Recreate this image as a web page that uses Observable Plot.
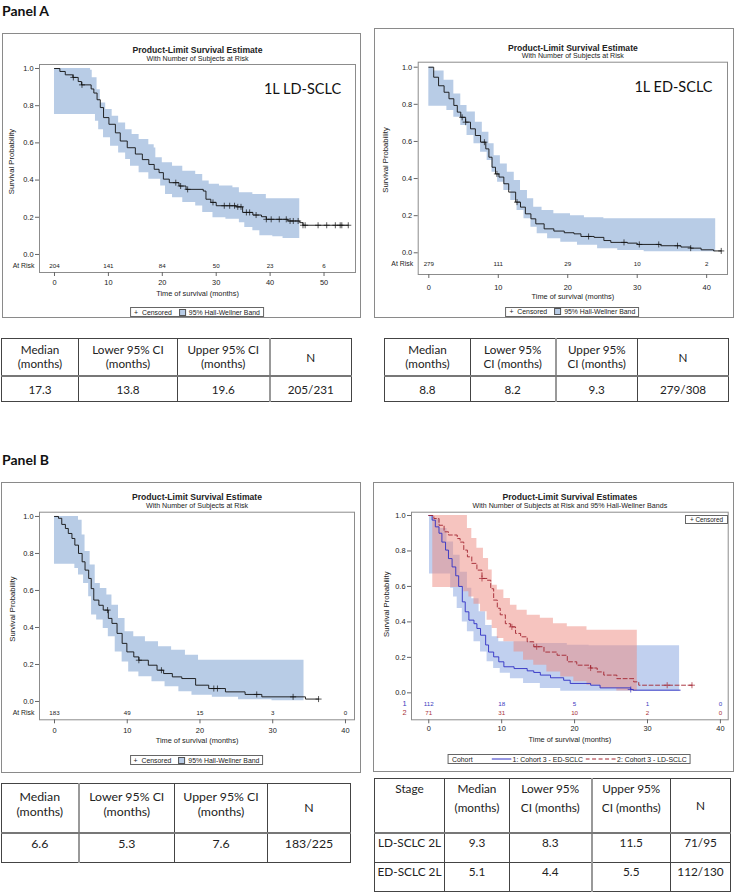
<!DOCTYPE html>
<html><head><meta charset="utf-8">
<script src="https://cdn.jsdelivr.net/npm/d3@7"></script>
<script src="https://cdn.jsdelivr.net/npm/@observablehq/plot@0.6"></script>
<style>
body{margin:0;background:#fff;}
#page{position:relative;width:736px;height:896px;overflow:hidden;font-family:"Liberation Sans",Arial,sans-serif;color:#222;}
.panelTitle{position:absolute;left:2px;font-family:Lato,sans-serif;font-weight:bold;font-size:14px;line-height:16px;color:#111;}
.box{position:absolute;border:1px solid #8a8a8a;box-sizing:border-box;background:#fff;}
.box > svg{position:absolute;left:0;top:0;}
.legend{position:absolute;border:1px solid #666;font-size:6.9px;display:flex;align-items:center;white-space:nowrap;padding:0 3px;height:10px;box-sizing:border-box;transform:translateX(-50%);background:#fff;color:#222;}
.legend svg{position:static;display:block;}
.sw{display:inline-block;width:5px;height:5px;border:1px solid #555;margin:0 3px 0 7px;}
table{position:absolute;border-collapse:collapse;font-family:Lato,sans-serif;color:#222;table-layout:fixed;}
td{border:1px solid #444;text-align:center;padding:0;overflow:hidden;white-space:nowrap;}
</style></head>
<body><div id="page"></div>
<script>
// ---------------- DATA ----------------
// Panel A left: 1L LD-SCLC  (time in months, survival probability)
const aLCurve = [[0,1],[1.0,0.984],[2.0,0.966],[3.4,0.952],[4.4,0.93],[5.0,0.912],[6.8,0.89],[7.3,0.868],[7.9,0.832],[8.5,0.79],[9.1,0.736],[10.1,0.7],[11.3,0.654],[12.2,0.61],[13.5,0.574],[15.0,0.54],[16.3,0.51],[17.5,0.484],[18.5,0.458],[19.4,0.44],[20.2,0.405],[21.3,0.386],[23.1,0.368],[24.4,0.35],[27.6,0.341],[28.1,0.297],[29.0,0.28],[30.0,0.262],[33.7,0.256],[34.9,0.226],[36.8,0.212],[38.4,0.203],[39.3,0.189],[43.3,0.18],[45.5,0.171],[46.1,0.157],[54.5,0.157]];
const aLUpper = [[0,1],[6.7,0.99],[7.0,0.95],[7.9,0.886],[8.5,0.814],[9.5,0.78],[10.7,0.743],[11.9,0.707],[13.2,0.671],[14.4,0.645],[15.7,0.618],[17.5,0.59],[18.5,0.573],[18.8,0.52],[20.0,0.493],[21.9,0.475],[23.8,0.448],[26.2,0.43],[27.5,0.395],[28.7,0.377],[30.6,0.368],[33.1,0.359],[34.3,0.332],[36.8,0.323],[39.3,0.3],[45.5,0.3]];
const aLLower = [[0,0.752],[6.7,0.752],[7.6,0.716],[8.2,0.671],[9.1,0.627],[10.4,0.582],[11.9,0.546],[13.2,0.51],[14.1,0.475],[15.7,0.44],[17.5,0.404],[19.7,0.368],[20.6,0.323],[21.9,0.305],[23.8,0.279],[26.2,0.26],[27.5,0.225],[29.4,0.198],[31.8,0.189],[34.3,0.171],[35.3,0.145],[36.8,0.127],[38.1,0.1],[40.5,0.095],[42.4,0.086],[45.5,0.086]];
const aLCensor = [3.5,5.1,22.5,23.4,24.7,29.4,31.5,32.5,33.4,34.0,34.6,35.6,36.2,37.4,39.3,40.2,41.7,43.0,43.7,44.3,45.2,46.1,46.5,48.9,50.5,52.1,53.0,53.3,54.5];
const aLRiskTimes = [0,10,20,30,40,50];
const aLRisk = [204,141,84,50,23,6];

// Panel A right: 1L ED-SCLC
const aRCurve = [[0,1],[0.7,0.946],[1.4,0.9],[2.2,0.865],[2.9,0.83],[3.6,0.794],[4.1,0.758],[4.6,0.73],[5.3,0.704],[6.0,0.668],[6.7,0.632],[7.45,0.596],[8.2,0.56],[8.65,0.515],[9.1,0.461],[9.6,0.425],[10.1,0.408],[10.8,0.372],[11.5,0.327],[12.5,0.273],[13.2,0.246],[13.9,0.21],[14.7,0.183],[15.4,0.156],[16.6,0.129],[18.0,0.117],[19.5,0.108],[20.9,0.102],[21.9,0.088],[23.8,0.083],[25.2,0.066],[26.2,0.056],[28.6,0.052],[30.0,0.045],[33.4,0.038],[36.3,0.031],[37.7,0.025],[39.2,0.016],[41.0,0.01],[42.1,0.01]];
const aRUpper = [[0,1],[0.7,0.98],[2.2,0.93],[3.6,0.856],[4.6,0.794],[5.5,0.758],[6.7,0.704],[7.7,0.65],[8.65,0.587],[9.4,0.523],[10.3,0.478],[11.3,0.434],[12.3,0.39],[13.2,0.336],[14.2,0.291],[15.1,0.246],[16.3,0.228],[18.0,0.21],[20.4,0.2],[22.4,0.189],[25.2,0.183],[41.3,0.183]];
const aRLower = [[0,0.79],[1.9,0.79],[2.6,0.767],[3.6,0.73],[4.6,0.686],[5.5,0.632],[6.5,0.587],[7.45,0.542],[8.4,0.497],[9.1,0.434],[9.9,0.38],[10.8,0.336],[11.8,0.282],[12.7,0.228],[13.7,0.183],[14.7,0.138],[15.6,0.102],[17.1,0.075],[19.0,0.057],[21.4,0.04],[24.3,0.022],[27.2,0.013],[31.0,0.005],[41.3,0.005]];
const aRCensor = [4.8,5.3,8.0,9.8,12.7,23.0,28.1,30.3,33.1,35.8,37.7,42.1];
const aRRiskTimes = [0,10,20,30,40];
const aRRisk = [279,111,29,10,2];

// Panel B left
const bLCurve = [[0,1],[0.55,0.99],[1.0,0.957],[1.5,0.935],[1.9,0.908],[2.4,0.881],[2.8,0.845],[3.3,0.8],[3.8,0.755],[4.2,0.71],[4.7,0.665],[5.05,0.61],[5.4,0.548],[6.1,0.52],[6.7,0.494],[7.4,0.449],[7.9,0.422],[8.6,0.368],[9.3,0.314],[9.95,0.268],[10.9,0.241],[11.6,0.223],[12.9,0.196],[14.1,0.169],[15.0,0.151],[16.2,0.133],[17.5,0.124],[19.4,0.088],[21.2,0.07],[23.5,0.052],[26.2,0.038],[28.5,0.025],[34.5,0.013],[36.3,0.013]];
const bLUpper = [[0,1],[3.1,1],[3.3,0.98],[3.8,0.9],[4.2,0.81],[4.9,0.737],[5.6,0.638],[6.3,0.611],[7.2,0.575],[7.9,0.52],[8.8,0.449],[9.7,0.377],[10.9,0.35],[12.5,0.323],[14.3,0.296],[16.1,0.277],[18.0,0.25],[19.8,0.223],[34.3,0.223]];
const bLLower = [[0,0.742],[2.4,0.742],[2.8,0.719],[3.3,0.683],[4.0,0.638],[4.7,0.566],[5.1,0.467],[5.8,0.44],[6.7,0.395],[7.4,0.35],[8.35,0.268],[9.3,0.214],[10.2,0.16],[11.6,0.133],[13.4,0.106],[15.2,0.079],[17.1,0.052],[18.9,0.034],[21.7,0.023],[25.3,0.009],[29.9,0.004],[34.3,0.004]];
const bLCensor = [7.3,11.6,14.7,21.9,22.4,27.8,32.8,36.3];
const bLRiskTimes = [0,10,20,30,40];
const bLRisk = [183,49,15,3,0];

// Panel B right: cohort 1 ED-SCLC (blue), cohort 2 LD-SCLC (red)
const edCurve = [[0,1],[0.46,0.974],[0.9,0.936],[1.4,0.9],[1.8,0.85],[2.3,0.805],[2.7,0.757],[3.2,0.71],[3.7,0.66],[4.1,0.6],[4.6,0.513],[5.0,0.457],[5.5,0.41],[6.2,0.39],[6.6,0.363],[7.1,0.325],[7.8,0.27],[8.2,0.23],[8.9,0.203],[9.6,0.175],[10.3,0.147],[11.7,0.137],[13.5,0.124],[14.4,0.115],[15.3,0.1],[16.7,0.085],[18.5,0.071],[19.4,0.053],[22.2,0.043],[23.5,0.028],[27.7,0.019],[28.0,0.015],[34.5,0.015]];
const edUpper = [[0.1,1],[0.7,0.98],[1.6,0.927],[2.5,0.85],[3.4,0.776],[4.3,0.68],[5.3,0.59],[5.9,0.53],[6.9,0.457],[7.8,0.38],[8.7,0.316],[9.6,0.288],[14.4,0.278],[19.0,0.269],[22.0,0.265],[34.4,0.265]];
const edLower = [[0.1,0.67],[2.1,0.67],[3.0,0.59],[3.4,0.54],[3.9,0.475],[4.6,0.4],[5.3,0.344],[6.2,0.288],[7.1,0.23],[8.0,0.175],[8.9,0.137],[9.8,0.11],[11.2,0.08],[13.0,0.053],[15.3,0.024],[18.1,0.009],[34.4,0.005]];
const edCensor = [27.7];
const ldCurve = [[0,1],[0.7,0.983],[1.4,0.945],[2.1,0.908],[2.7,0.89],[3.9,0.87],[4.3,0.85],[4.8,0.805],[5.3,0.767],[5.9,0.73],[6.6,0.692],[7.3,0.645],[8.0,0.635],[8.5,0.587],[8.9,0.523],[9.4,0.477],[9.8,0.44],[10.5,0.39],[11.2,0.372],[11.9,0.335],[12.6,0.316],[13.5,0.288],[14.4,0.26],[15.8,0.23],[17.6,0.212],[19.0,0.175],[20.3,0.156],[22.2,0.14],[23.1,0.118],[24.0,0.1],[25.8,0.08],[28.1,0.062],[28.8,0.043],[36.1,0.043]];
const ldUpper = [[0.55,1],[4.8,1],[5.3,0.927],[5.9,0.87],[6.6,0.815],[7.5,0.757],[8.2,0.692],[8.7,0.607],[9.4,0.58],[10.3,0.532],[11.2,0.494],[12.1,0.466],[13.5,0.438],[15.3,0.42],[17.1,0.39],[19.0,0.372],[21.7,0.353],[28.6,0.35]];
const ldLower = [[0.55,0.594],[4.3,0.594],[4.8,0.57],[5.5,0.54],[6.2,0.5],[7.1,0.457],[8.0,0.41],[8.7,0.363],[9.4,0.306],[10.3,0.288],[11.7,0.23],[13.0,0.184],[14.4,0.156],[16.2,0.118],[18.1,0.09],[19.9,0.062],[21.7,0.043],[23.5,0.024],[25.8,0.01],[28.6,0.01]];
const ldCensor = [7.3,11.4,14.8,22.2,32.7,36.1];
const bRRiskTimes = [0,10,20,30,40];
const edRisk = [112,18,5,1,0];
const ldRisk = [71,31,10,2,0];

// axis ticks
const yTicks = [0,0.2,0.4,0.6,0.8,1.0];
const xTicks50 = [0,10,20,30,40,50];
const xTicks40 = [0,10,20,30,40];

// Tables
const headA1 = [["Median","(months)"],["Lower 95% CI","(months)"],["Upper 95% CI","(months)"],["N"]];
const rowA1 = ["17.3","13.8","19.6","205/231"];
const headA2 = [["Median","(months)"],["Lower 95%","CI (months)"],["Upper 95%","CI (months)"],["N"]];
const rowA2 = ["8.8","8.2","9.3","279/308"];
const headB1 = [["Median","(months)"],["Lower 95% CI","(months)"],["Upper 95% CI","(months)"],["N"]];
const rowB1 = ["6.6","5.3","7.6","183/225"];
const headB2 = [["Stage"],["Median","(months)"],["Lower 95%","CI (months)"],["Upper 95%","CI (months)"],["N"]];
const rowB2a = ["LD-SCLC 2L","9.3","8.3","11.5","71/95"];
const rowB2b = ["ED-SCLC 2L","5.1","4.4","5.5","112/130"];

// ---------------- HELPERS ----------------
const page = document.getElementById("page");
const FONT = '"Liberation Sans", Arial, sans-serif';
function stepAt(arr, t){ let v = arr[0][1]; for (const [tt, vv] of arr){ if (tt <= t) v = vv; else break; } return v; }
function bandRows(upper, lower){
  const ts = Array.from(new Set([...upper.map(d=>d[0]), ...lower.map(d=>d[0])])).sort((a,b)=>a-b);
  return ts.map(t => ({t, hi: stepAt(upper,t), lo: stepAt(lower,t)}));
}
function addTitle(text, top){
  const d = document.createElement("div"); d.className="panelTitle"; d.style.top=top+"px"; d.textContent=text; page.appendChild(d);
}

function kmPanel(c){
  const box = document.createElement("div"); box.className="box";
  Object.assign(box.style,{left:c.box[0]+"px",top:c.box[1]+"px",width:c.box[2]+"px",height:c.box[3]+"px"});
  const W = c.box[2]-2, H = c.box[3]-2;
  const [ml,mt,mr,mb] = c.margins;
  const marks = [];
  for (const g of c.groups) marks.push(Plot.areaY(bandRows(g.upper,g.lower),{x:"t",y1:"lo",y2:"hi",curve:"step-after",fill:g.bandFill,fillOpacity:g.bandOpacity}));
  for (const g of c.groups){
    marks.push(Plot.line(g.curve,{x:d=>d[0],y:d=>d[1],curve:"step-after",stroke:g.color,strokeWidth:0.9,strokeDasharray:g.dash}));
    marks.push(Plot.dot(g.censor.map(t=>[t, stepAt(g.curve,t)]),{x:d=>d[0],y:d=>d[1],symbol:"plus",r:2.1,stroke:g.color,strokeWidth:0.7}));
    marks.push(Plot.text(c.riskTimes.map((t,i)=>[t,g.risk[i]]),{x:d=>d[0],text:d=>String(d[1]),frameAnchor:"bottom",dy:g.riskDy,fontSize:6.2,fill:g.riskColor}));
    marks.push(Plot.text([g.riskLabel],{text:d=>d,frameAnchor:"bottom-left",textAnchor:"end",dx:-5,dy:g.riskDy,fontSize:g.riskLabelSize,fill:g.riskColor}));
  }
  marks.push(Plot.frame({stroke:"#8c8c8c"}));
  marks.push(Plot.axisX({ticks:c.xTicks,tickSize:4,tickPadding:c.xPad,fontSize:7.4,label:null,stroke:"#666"}));
  marks.push(Plot.axisY({ticks:yTicks,tickFormat:d=>d.toFixed(1),tickSize:4,tickPadding:2,fontSize:7.4,label:null,stroke:"#666"}));
  marks.push(Plot.text([c.title],{text:d=>d,frameAnchor:"top",dy:c.titleDy,fontWeight:"bold",fontSize:8.6}));
  marks.push(Plot.text([c.subtitle],{text:d=>d,frameAnchor:"top",dy:c.subDy,fontSize:7.1}));
  marks.push(Plot.text(["Survival Probability"],{text:d=>d,frameAnchor:"left",textAnchor:"middle",rotate:-90,dx:c.ylabDx,dy:c.ylabDy,fontSize:7.7}));
  marks.push(Plot.text(["Time of survival (months)"],{text:d=>d,frameAnchor:"bottom",dy:c.xlabDy,fontSize:7.4}));
  if (c.note) marks.push(Plot.text([c.note],{text:d=>d,frameAnchor:"top-right",textAnchor:"middle",dx:c.noteDx,dy:c.noteDy,fontSize:14.5,fontFamily:"Lato, sans-serif",fill:"#111"}));
  const svg = Plot.plot({width:W,height:H,marginLeft:ml,marginTop:mt,marginRight:mr,marginBottom:mb,
    x:{domain:c.xDomain},y:{domain:c.yDomain},
    style:{fontFamily:FONT,fontSize:"7.4px",color:"#222",background:"transparent",overflow:"visible"},marks});
  box.appendChild(svg);
  const cx = ml + (W-ml-mr)/2;
  const lg = document.createElement("div"); lg.className="legend";
  lg.style.left = cx+"px"; lg.style.top = c.legendTop+"px";
  lg.innerHTML = c.legendHTML;
  box.appendChild(lg);
  if (c.extra) c.extra(box);
  page.appendChild(box);
}

function makeTable(cfg){
  const t = document.createElement("table");
  t.style.left = cfg.left+"px"; t.style.top = cfg.top+"px"; t.style.fontSize = cfg.fontSize+"px";
  t.style.width = cfg.widths.reduce((a,b)=>a+b,0)+"px";
  const cg = document.createElement("colgroup");
  cfg.widths.forEach(w=>{const col=document.createElement("col"); col.style.width=w+"px"; cg.appendChild(col);});
  t.appendChild(cg);
  const rows = [cfg.head, ...cfg.rows];
  rows.forEach((r,i)=>{
    const tr = document.createElement("tr"); tr.style.height = cfg.heights[i]+"px";
    r.forEach((cell,j)=>{
      const td = document.createElement("td");
      const lines = Array.isArray(cell) ? cell : [cell];
      td.innerHTML = lines.join("<br>");
      if (i===0){
        td.style.lineHeight = cfg.headLH+"px";
        if (lines.length===1 && lines[0]==="N"){ td.style.verticalAlign="middle"; }
        else { td.style.verticalAlign="top"; td.style.paddingTop = cfg.headPad+"px"; }
        td.style.borderBottom = "2px solid #777";
      } else {
        td.style.lineHeight = cfg.bodyLH+"px";
        td.style.verticalAlign = cfg.bodyAlign;
        td.style.paddingTop = cfg.bodyPad+"px";
      }
      if (j===cfg.thickCol) td.style.borderLeft = "2px solid #999";
      tr.appendChild(td);
    });
    t.appendChild(tr);
  });
  page.appendChild(t);
}

const singleBand = "#b8cce6";
const legendSingle = `<span>+&nbsp;&nbsp;Censored</span><span class="sw" style="background:${singleBand}"></span><span>95% Hall-Wellner Band</span>`;

// ---------------- BUILD ----------------
addTitle("Panel A", 3);
addTitle("Panel B", 452);

kmPanel({
  box:[2,33,359,285], margins:[36,30,5,45], xDomain:[-2.78,55.84], yDomain:[-0.097,1.0215],
  xTicks:xTicks50, xPad:3.3, riskTimes:aLRiskTimes,
  groups:[{curve:aLCurve,upper:aLUpper,lower:aLLower,censor:aLCensor,risk:aLRisk,color:"#111",bandFill:singleBand,bandOpacity:1,riskDy:-5,riskColor:"#222",riskLabel:"At Risk",riskLabelSize:6.9}],
  title:"Product-Limit Survival Estimate", subtitle:"With Number of Subjects at Risk", titleDy:-18, subDy:-9,
  ylabDx:-28, ylabDy:-7, xlabDy:23, note:"1L LD-SCLC", noteDx:-53, noteDy:19,
  legendTop:273, legendHTML:legendSingle
});

kmPanel({
  box:[374,28,360,290], margins:[42.7,32.7,6,43], xDomain:[-1.53,43.0], yDomain:[-0.117,1.027],
  xTicks:xTicks40, xPad:6, riskTimes:aRRiskTimes,
  groups:[{curve:aRCurve,upper:aRUpper,lower:aRLower,censor:aRCensor,risk:aRRisk,color:"#111",bandFill:singleBand,bandOpacity:1,riskDy:-9,riskColor:"#222",riskLabel:"At Risk",riskLabelSize:6.9}],
  title:"Product-Limit Survival Estimate", subtitle:"With Number of Subjects at Risk", titleDy:-17.7, subDy:-9.4,
  ylabDx:-33, ylabDy:-8.4, xlabDy:24.3, note:"1L ED-SCLC", noteDx:-54, noteDy:20,
  legendTop:277.5, legendHTML:legendSingle
});

kmPanel({
  box:[1,482,360,291], margins:[37,28.7,6,52.7], xDomain:[-2.06,41.24], yDomain:[-0.099,1.023],
  xTicks:xTicks40, xPad:4, riskTimes:bLRiskTimes,
  groups:[{curve:bLCurve,upper:bLUpper,lower:bLLower,censor:bLCensor,risk:bLRisk,color:"#111",bandFill:singleBand,bandOpacity:1,riskDy:-5,riskColor:"#222",riskLabel:"At Risk",riskLabelSize:6.9}],
  title:"Product-Limit Survival Estimate", subtitle:"With Number of Subjects at Risk", titleDy:-18.4, subDy:-9.4,
  ylabDx:-27.3, ylabDy:-7, xlabDy:22.7,
  legendTop:272, legendHTML:legendSingle
});

kmPanel({
  box:[373,482,361,290], margins:[37,28.7,5.3,51.7], xDomain:[-2.37,41.07], yDomain:[-0.152,1.0186],
  xTicks:xTicks40, xPad:2.3, riskTimes:bRRiskTimes,
  groups:[
    {curve:edCurve,upper:edUpper,lower:edLower,censor:edCensor,risk:edRisk,color:"#2f2fc4",bandFill:"#8eaae2",bandOpacity:0.55,riskDy:-14.3,riskColor:"#3b3bc0",riskLabel:"1",riskLabelSize:7.4},
    {curve:ldCurve,upper:ldUpper,lower:ldLower,censor:ldCensor,risk:ldRisk,color:"#a32530",bandFill:"#ee8a80",bandOpacity:0.5,dash:"4,2.5",riskDy:-5,riskColor:"#a83038",riskLabel:"2",riskLabelSize:7.4}
  ],
  title:"Product-Limit Survival Estimates", subtitle:"With Number of Subjects at Risk and 95% Hall-Wellner Bands", titleDy:-18.4, subDy:-9,
  ylabDx:-25, ylabDy:-11.8, xlabDy:22.4,
  legendTop:271,
  legendHTML:`<span>Cohort</span><svg width="20" height="4" style="margin-left:19px"><line x1="0" y1="2" x2="20" y2="2" stroke="#2f2fc4" stroke-width="1"/></svg><span style="margin-left:1px">1: Cohort 3 - ED-SCLC</span><svg width="31" height="4" style="margin-left:2px"><line x1="0" y1="2" x2="31" y2="2" stroke="#a32530" stroke-width="1" stroke-dasharray="4,2.5"/></svg><span style="margin-left:1px">2: Cohort 3 - LD-SCLC</span>`,
  extra: box => {
    const d = document.createElement("div");
    Object.assign(d.style,{position:"absolute",left:"311px",top:"32px",width:"43px",height:"9px",border:"1px solid #666",boxSizing:"border-box",fontSize:"6.4px",lineHeight:"7px",textAlign:"center",background:"#fff",whiteSpace:"nowrap"});
    d.textContent = "+ Censored";
    box.appendChild(d);
  }
});

makeTable({left:1,top:338,widths:[77,99,92,82],heights:[37,26],head:headA1,rows:[rowA1],fontSize:11.7,headLH:14.4,headPad:3,bodyLH:14,bodyAlign:"middle",bodyPad:0,thickCol:3});
makeTable({left:384,top:338,widths:[86,85,82,91],heights:[37,26],head:headA2,rows:[rowA2],fontSize:11.7,headLH:14.4,headPad:3,bodyLH:14,bodyAlign:"middle",bodyPad:0,thickCol:2});
makeTable({left:1,top:783,widths:[77,96,93,83],heights:[49,30],head:headB1,rows:[rowB1],fontSize:12.3,headLH:15,headPad:4.5,bodyLH:15,bodyAlign:"top",bodyPad:2,thickCol:1});
makeTable({left:374,top:778,widths:[70,65,82,79,60],heights:[54,30,29],head:headB2,rows:[rowB2a,rowB2b],fontSize:11.8,headLH:19,headPad:0,bodyLH:16,bodyAlign:"top",bodyPad:1,thickCol:3});
</script></body></html>
